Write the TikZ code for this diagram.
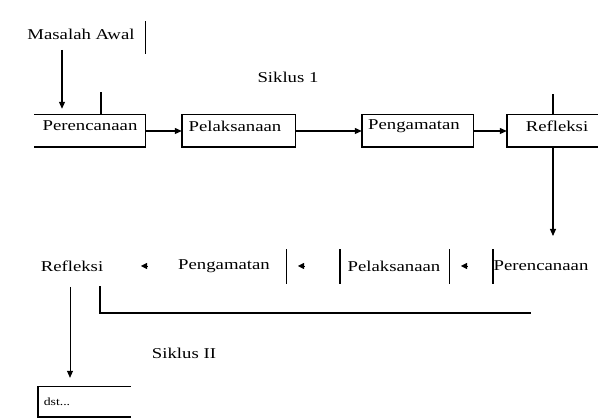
\documentclass[tikz,border=0pt]{standalone}
\usepackage{fontspec}
\setmainfont{Liberation Serif}[FakeStretch=1.25]
\usetikzlibrary{arrows.meta}
\tikzset{
  lbl/.style={font=\fontsize{15}{18}\selectfont, inner sep=0pt},
  small/.style={font=\fontsize{11}{13}\selectfont, inner sep=0pt},
  frame/.style={draw=none, inner sep=0pt, minimum height=32pt},
  edge/.style={line width=1.4pt, line cap=rect},
  thin/.style={line width=0.7pt},
  arr/.style={line width=1.1pt, -{Triangle[length=7pt,width=6pt]}},
  tinytip/.style={line width=0.5pt, -{Triangle[length=6pt,width=6pt]}}
}
\begin{document}
\begin{tikzpicture}[x=1pt,y=-1pt]
\useasboundingbox (0,0) rectangle (598,419);

% Masalah Awal
\node[lbl] (ma) at (81,34) {Masalah Awal};
\node[frame, minimum width=125pt, minimum height=31pt] (mab) at (82.5,37.5) {};
\draw[edge] (mab.north east) -- (mab.south east);

\node[lbl] (s1) at (288,77) {Siklus 1};

% top row frames
\node[frame, minimum width=110pt] (b1) at (90,131) {};
\node[frame, minimum width=113pt] (b2) at (238.5,131) {};
\node[frame, minimum width=111pt] (b3) at (417.5,131) {};
\node[frame, minimum width=91pt]  (b4) at (552.5,131) {};

\draw[edge] (b1.north west) -- (b1.north east) -- (b1.south east) -- (b1.south west);
\draw[edge] (b2.north west) rectangle (b2.south east);
\draw[edge] (b3.north west) rectangle (b3.south east);
\draw[edge] (b4.north east) -- (b4.north west) -- (b4.south west) -- (b4.south east);

\node[lbl] (t1) at (90,126) {Perencanaan};
\node[lbl] (t2) at (235,126) {Pelaksanaan};
\node[lbl] (t3) at (414,126) {Pengamatan};
\node[lbl] (t4) at (557,126) {Refleksi};

\draw[arr] (b1.east) -- (b2.west);
\draw[arr] (b2.east) -- (b3.west);
\draw[arr] (b3.east) -- (b4.west);

% arrow from Masalah Awal
\coordinate (m1) at (62,50);
\draw[arr, shorten >=6pt] (m1) -- (m1 |- b1.north);
\coordinate (u1) at (101,93);
\draw[edge] (u1) -- (u1 |- b1.north);
\coordinate (u4) at (553,95);
\draw[edge] (u4) -- (u4 |- b4.north);
\coordinate (d4) at (553,236);
\draw[arr] (d4 |- b4.south) -- (d4);

% second row
\node[lbl] (r1) at (72,266) {Refleksi};
\node[lbl] (r2) at (224,266) {Pengamatan};
\node[lbl] (r3) at (394,266) {Pelaksanaan};
\node[lbl] (r4) at (541,266) {Perencanaan};

\node[frame, minimum width=126pt, minimum height=33pt] (rb2) at (223,266.5) {};
\node[frame, minimum width=109pt, minimum height=33pt] (rb3) at (394.5,266.5) {};
\node[frame, minimum width=105pt, minimum height=33pt] (rb4) at (545.5,266.5) {};
\draw[edge] (rb2.north east) -- (rb2.south east);
\draw[edge] (rb3.north west) -- (rb3.south west);
\draw[edge] (rb3.north east) -- (rb3.south east);
\draw[edge] (rb4.north west) -- (rb4.south west);

\coordinate (h1a) at (147,266); \coordinate (h1b) at (141,266);
\coordinate (h2a) at (304,266); \coordinate (h2b) at (298,266);
\coordinate (h3a) at (467,266); \coordinate (h3b) at (461,266);
\draw[tinytip] (h1a) -- (h1b);
\draw[tinytip] (h2a) -- (h2b);
\draw[tinytip] (h3a) -- (h3b);

% feedback line
\coordinate (f1) at (100,287);
\coordinate (f2) at (530,313);
\draw[edge] (f1) |- (f2);

% down to dst
\node[frame, minimum width=92pt, minimum height=30pt] (db) at (84,402) {};
\coordinate (g1) at (70,287);
\draw[thin, -{Triangle[length=7pt,width=6pt]}, shorten >=9pt] (g1) -- (g1 |- db.north);
\draw[edge] (db.north east) -- (db.north west) -- (db.south west) -- (db.south east);
\node[small] (dst) at (57,402) {dst...};

\node[lbl] (s2) at (184,353) {Siklus II};
\end{tikzpicture}
\end{document}
